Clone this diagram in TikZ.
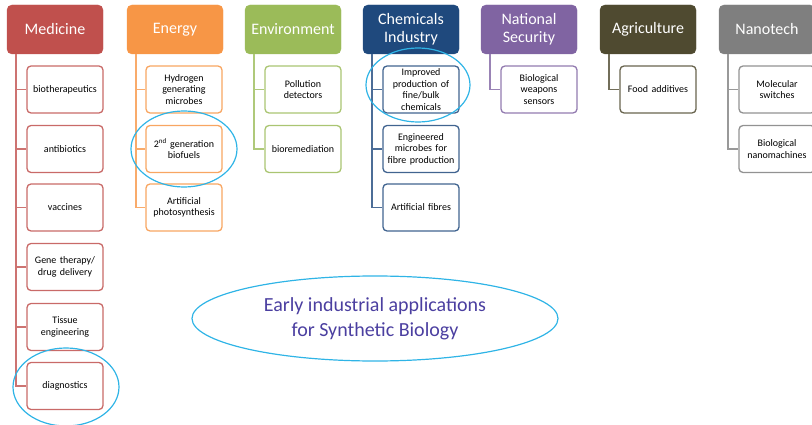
\documentclass[tikz,border=0pt]{standalone}
\usepackage{fontspec}
\setmainfont{Carlito}
\usetikzlibrary{shapes.geometric}
\definecolor{medc}{HTML}{C0504D}
\definecolor{enec}{HTML}{F79646}
\definecolor{envc}{HTML}{9BBB59}
\definecolor{chec}{HTML}{1F497D}
\definecolor{natc}{HTML}{8064A2}
\definecolor{agrc}{HTML}{4F4A30}
\definecolor{nanc}{HTML}{7F7F7F}
\definecolor{ringc}{HTML}{2FB4E6}
\definecolor{titlec}{HTML}{4B3FA0}
\begin{document}
\begin{tikzpicture}[x=1pt,y=-1pt]

      \tikzset{head/.style={draw=#1, fill=#1, rounded corners=5pt, minimum width=96pt, minimum height=49pt,
                 text=white, font=\fontsize{16}{18}\selectfont, align=center, inner sep=1pt},
               leaf/.style={draw=#1!85, fill=white, line width=1.3pt, rounded corners=4pt, minimum width=76pt, minimum height=47pt,
                 text width=74pt, font=\fontsize{10}{11.5}\selectfont, align=center, inner sep=1pt},
               conn/.style={draw=#1!80, line width=1.5pt},
               elbow/.style={to path={|- (\tikztotarget)}},
               ring/.style={draw=ringc, line width=1.2pt}}
      \useasboundingbox (0,0) rectangle (812,425);
%% Headers
      	\node[head=medc] (med) at (55,29.5) {Medicine};
      	\node[head=enec] (ene) at (175,29.5) {Energy};
      	\node[head=envc] (env) at (293,29.5) {Environment};
      	\node[head=chec] (che) at (411,29.5) {Chemicals\\Industry};
      	\node[head=natc] (nat) at (529,29.5) {National\\Security};
      	\node[head=agrc] (agr) at (648,29.5) {Agriculture};
      	\node[head=nanc] (nan) at (767,29.5) {Nanotech};
%% Medicine
      	\node[leaf=medc] (med1) at (65,89.5) {biotherapeutics};
      	\node[leaf=medc] (med2) at (65,149) {antibiotics};
      	\node[leaf=medc] (med3) at (65,207.5) {vaccines};
      	\node[leaf=medc] (med4) at (65,267) {Gene therapy/\\drug delivery};
      	\node[leaf=medc] (med5) at (65,327) {Tissue\\engineering};
      	\node[leaf=medc] (med6) at (65,386) {diagnostics};
%% Energy
      	\node[leaf=enec] (ene1) at (184,89.5) {Hydrogen\\generating\\microbes};
      	\node[leaf=enec] (ene2) at (184,149) {2\textsuperscript{nd} generation\\biofuels};
      	\node[leaf=enec] (ene3) at (184,207.5) {Artificial\\photosynthesis};
%% Environment
      	\node[leaf=envc] (env1) at (303,89.5) {Pollution\\detectors};
      	\node[leaf=envc] (env2) at (303,149) {bioremediation};
%% Chemicals
      	\node[leaf=chec] (che1) at (421,89.5) {Improved\\production of\\fine/bulk\\chemicals};
      	\node[leaf=chec] (che2) at (421,149) {Engineered\\microbes for\\fibre production};
      	\node[leaf=chec] (che3) at (421,207.5) {Artificial fibres};
%% Others
      	\node[leaf=natc] (nat1) at (539,89.5) {Biological\\weapons\\sensors};
      	\node[leaf=agrc] (agr1) at (658,89.5) {Food additives};
      	\node[leaf=nanc] (nan1) at (777,89.5) {Molecular\\switches};
      	\node[leaf=nanc] (nan2) at (777,149) {Biological\\nanomachines};
%Connectors
		\path[conn=medc] ([xshift=9pt]med.south west) edge[elbow] (med1) edge[elbow] (med2) edge[elbow] (med3)
		      edge[elbow] (med4) edge[elbow] (med5) edge[elbow] (med6);
		\path[conn=enec] ([xshift=9pt]ene.south west) edge[elbow] (ene1) edge[elbow] (ene2) edge[elbow] (ene3);
		\path[conn=envc] ([xshift=9pt]env.south west) edge[elbow] (env1) edge[elbow] (env2);
		\path[conn=chec] ([xshift=9pt]che.south west) edge[elbow] (che1) edge[elbow] (che2) edge[elbow] (che3);
		\path[conn=natc] ([xshift=9pt]nat.south west) edge[elbow] (nat1);
		\path[conn=agrc] ([xshift=9pt]agr.south west) edge[elbow] (agr1);
		\path[conn=nanc] ([xshift=9pt]nan.south west) edge[elbow] (nan1) edge[elbow] (nan2);
%Rings
		\draw[ring] (ene2) ellipse (53pt and 38pt);
		\draw[ring] (418,85) ellipse (52pt and 37pt);
		\draw[ring] (66,387) ellipse (53pt and 39pt);
		\node[ring, ellipse, minimum width=366pt, minimum height=85pt, text=titlec,
		      font=\fontsize{20}{25}\selectfont, align=center] (title) at (375,318.5)
		      {Early industrial applications\\for Synthetic Biology};

	\end{tikzpicture}
\end{document}
